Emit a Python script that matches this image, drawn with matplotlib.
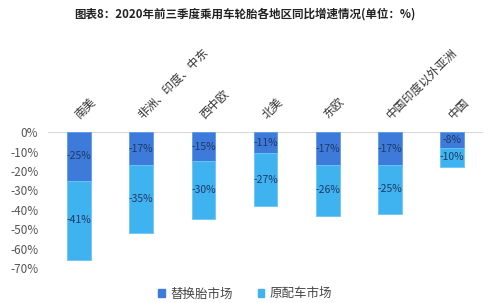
import matplotlib
matplotlib.use("Agg")
import matplotlib.pyplot as plt
from matplotlib import transforms
from matplotlib.patches import Patch

plt.rcParams['font.family'] = ['Noto Sans CJK SC', 'DejaVu Sans']
plt.rcParams['axes.unicode_minus'] = False

# data
regions = ["南美", "非洲、印度、中东", "西中欧", "北美", "东欧", "中国印度以外亚洲", "中国"]
replacement = [-25, -17, -15, -11, -17, -17, -8]
oem = [-41, -35, -30, -27, -26, -25, -10]
yticks = [0, -10, -20, -30, -40, -50, -60, -70]

c_rep = '#3d7ad9'
c_oem = '#3fb2f0'
txt_col = '#1f3a68'

fig = plt.figure(figsize=(4.9, 3.03), dpi=100)
ax = fig.add_axes([0.098, 0.1155, 0.888, 0.4485])

x = list(range(len(regions)))
w = 0.38
ax.bar(x, replacement, width=w, color=c_rep, edgecolor='#5b9be8', linewidth=0.6)
ax.bar(x, oem, width=w, bottom=replacement, color=c_oem, edgecolor='#6cc6f5', linewidth=0.6)

# segment labels
for i in x:
    ax.text(i, replacement[i] / 2, f"{replacement[i]}%", ha='center', va='center',
            fontsize=7.5, color=txt_col)
    ax.text(i, replacement[i] + oem[i] / 2, f"{oem[i]}%", ha='center', va='center',
            fontsize=7.5, color=txt_col)

ax.set_xlim(-0.5, len(regions) - 0.5)
ax.set_ylim(-70, 0)
ax.set_yticks(yticks)
ax.set_yticklabels([f"{v}%" for v in yticks])
ax.tick_params(axis='y', length=0, labelsize=8.5, labelcolor='#555555', pad=7)
ax.set_xticks([])
for s in ['top', 'right', 'left', 'bottom']:
    ax.spines[s].set_visible(False)
ax.axhline(0, color='#d9d9d9', linewidth=0.8, zorder=0)

# rotated category labels above the bars
trans = transforms.offset_copy(ax.get_xaxis_transform(), fig=fig, x=3, y=11, units='dots')
for i, name in enumerate(regions):
    ax.text(i, 1.0, name, transform=trans, rotation=45, rotation_mode='anchor',
            ha='left', va='bottom', fontsize=8.5, color='#333333', clip_on=False)

fig.text(0.5, 0.955, "图表8：2020年前三季度乘用车轮胎各地区同比增速情况(单位：%)",
         ha='center', va='center', fontsize=8.3, fontweight='bold', color='#222222')

handles = [Patch(color=c_rep, label='替换胎市场'), Patch(color=c_oem, label='原配车市场')]
fig.legend(handles=handles, loc='center', bbox_to_anchor=(0.5, 0.03), ncol=2,
           frameon=False, fontsize=9, handlelength=0.55, handleheight=0.55,
           handletextpad=0.4, columnspacing=2.0, labelcolor='#444444')

fig.savefig("out.png", dpi=100, facecolor='white')
